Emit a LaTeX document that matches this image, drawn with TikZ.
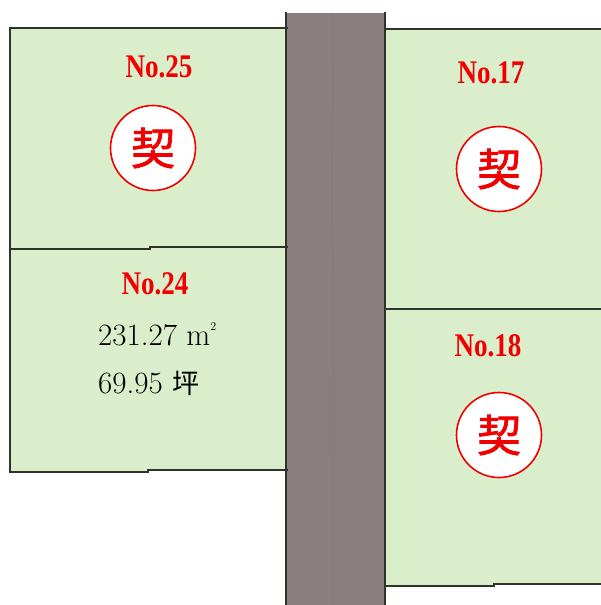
\documentclass[tikz,border=0pt]{standalone}
\usepackage{fontspec}
\newfontfamily\lotfont{Liberation Serif}
\newfontfamily\cjk{Noto Sans CJK JP}
\newfontfamily\cjkstamp{Noto Sans CJK JP}[FakeBold=1.6]
\definecolor{lotgreen}{RGB}{218,238,204}
\definecolor{lotline}{RGB}{45,52,42}
\definecolor{roadgray}{RGB}{138,126,127}
\definecolor{roadstreak}{RGB}{125,122,128}
\definecolor{stampred}{RGB}{240,0,0}
\tikzset{
  lot/.style={fill=lotgreen, draw=none},
  lotedge/.style={draw=lotline, line width=1.8pt, line cap=rect, line join=miter},
  lotno/.style={text=stampred, inner sep=0pt, font=\lotfont\bfseries\fontsize{33}{33}\selectfont},
  stamp/.style={circle, draw=stampred, line width=1.6pt, fill=white, minimum size=85pt, inner sep=0pt, text=stampred, font=\cjkstamp\fontsize{44}{44}\selectfont},
  areatext/.style={anchor=base west, inner sep=0pt, text=black, font=\fontsize{31}{31}\selectfont}
}
\begin{document}
\begin{tikzpicture}[x=1pt,y=-1pt]
\useasboundingbox (0,0) rectangle (601,605);
\fill[white] (0,0) rectangle (601,605);
% left lots
\fill[lot] (10,28) rectangle (287,471);
% right lots
\fill[lot] (386,29) rectangle (601,585);
% road
\fill[roadgray] (286,13) rectangle (385,605);
\draw[roadstreak, line width=1.5pt, opacity=0.5] (333,13) -- (332,200) -- (334,400) -- (333,605);
\draw[lotedge] (286,13) -- (286,605);
\draw[lotedge] (385,13) -- (385,605);
% left lot outlines
\draw[lotedge] (287,28) -- (10,28) -- (10,472) -- (148,472) -- (148,470) -- (287,470);
\draw[lotedge] (10,249) -- (150,249) -- (150,247) -- (287,247);
% right lot outlines
\draw[lotedge] (601,29) -- (386,29);
\draw[lotedge] (386,309) -- (601,309);
\draw[lotedge] (386,586) -- (494,586) -- (494,584) -- (601,584);
% labels
\node[lotno] (n25) at (159,67) {\scalebox{0.82}[1]{No.25}};
\node[lotno] (n24) at (155,284) {\scalebox{0.82}[1]{No.24}};
\node[lotno] (n17) at (491,73) {\scalebox{0.82}[1]{No.17}};
\node[lotno] (n18) at (488,346) {\scalebox{0.82}[1]{No.18}};
% stamps
\node[stamp] (s25) at (153,148) {契};
\node[stamp] (s17) at (499,169) {契};
\node[stamp] (s18) at (499,435) {契};
% area
\node[areatext] (area) at (98,345) {231.27 m\raisebox{0.48em}{\fontsize{12}{12}\selectfont 2}};
\node[areatext] (tsubo) at (98,393) {69.95 {\cjk\fontsize{27}{27}\selectfont 坪}};
\end{tikzpicture}
\end{document}
